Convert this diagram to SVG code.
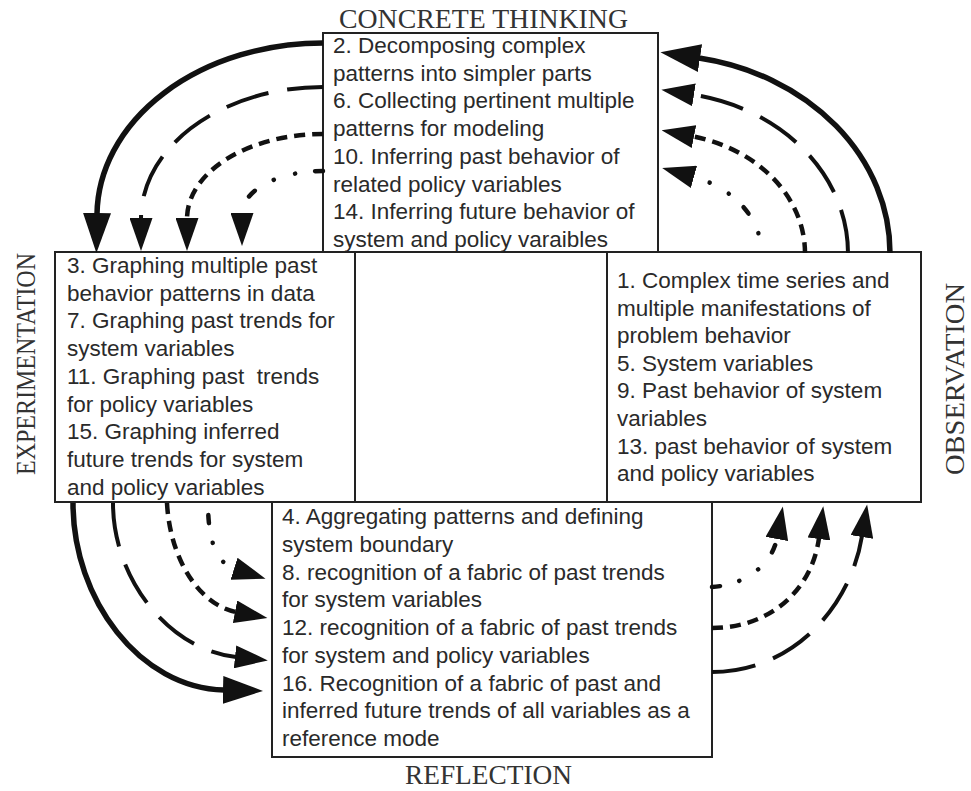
<svg xmlns="http://www.w3.org/2000/svg" width="971" height="791" viewBox="0 0 971 791">
  <style>
    .box { fill: #fff; stroke: #222; stroke-width: 2; }
    .body { font-family: "Liberation Sans", Arial, sans-serif; font-size: 22.5px; fill: #2a2a2a; }
    .phase { font-family: "Liberation Serif", "Times New Roman", serif; font-size: 27px; fill: #333; }
    .arc { fill: none; stroke: #111; }
    .solid { stroke-width: 5.5; }
    .long { stroke-width: 4; stroke-dasharray: 44 19; }
    .short { stroke-width: 4.5; stroke-dasharray: 11 7; }
    .dotdash { stroke-width: 4.5; stroke-linecap: round; stroke-dasharray: 8 20 0.1 22 0.1 22; }
  </style>
  <defs>
    <marker id="head" markerUnits="userSpaceOnUse" viewBox="0 0 33 23" markerWidth="33" markerHeight="23" refX="1" refY="11.5" orient="auto">
      <path d="M0,0 L33,11.5 L0,23 Z" fill="#111"/>
    </marker>
    <marker id="head-lg" markerUnits="userSpaceOnUse" viewBox="0 0 40 28" markerWidth="40" markerHeight="28" refX="1" refY="14" orient="auto">
      <path d="M0,0 L40,14 L0,28 Z" fill="#111"/>
    </marker>
  </defs>

  <rect width="971" height="791" fill="#fff"/>

  <!-- Concrete thinking (top) -->
  <g id="concrete-thinking">
    <rect class="box" x="323" y="33" width="335" height="219"/>
    <text class="body">
      <tspan x="333" y="53">2. Decomposing complex</tspan>
      <tspan x="333" y="80.7">patterns into simpler parts</tspan>
      <tspan x="333" y="108.4">6. Collecting pertinent multiple</tspan>
      <tspan x="333" y="136.1">patterns for modeling</tspan>
      <tspan x="333" y="163.8">10. Inferring past behavior of</tspan>
      <tspan x="333" y="191.5">related policy variables</tspan>
      <tspan x="333" y="219.2">14. Inferring future behavior of</tspan>
      <tspan x="333" y="246.9">system and policy varaibles</tspan>
    </text>
    <text class="phase" x="483.5" y="28" text-anchor="middle" textLength="289" lengthAdjust="spacingAndGlyphs">CONCRETE THINKING</text>
  </g>

  <!-- Experimentation (left) -->
  <g id="experimentation">
    <rect class="box" x="55" y="252" width="300" height="250"/>
    <text class="body">
      <tspan x="67" y="273">3. Graphing multiple past</tspan>
      <tspan x="67" y="300.7">behavior patterns in data</tspan>
      <tspan x="67" y="328.4">7. Graphing past trends for</tspan>
      <tspan x="67" y="356.1">system variables</tspan>
      <tspan x="67" y="383.8">11. Graphing past&#160; trends</tspan>
      <tspan x="67" y="411.5">for policy variables</tspan>
      <tspan x="67" y="439.2">15. Graphing inferred</tspan>
      <tspan x="67" y="466.9">future trends for system</tspan>
      <tspan x="67" y="494.6">and policy variables</tspan>
    </text>
    <text class="phase" transform="translate(35,364) rotate(-90)" text-anchor="middle" textLength="222" lengthAdjust="spacingAndGlyphs">EXPERIMENTATION</text>
  </g>

  <!-- Empty centre cell -->
  <g id="centre">
    <rect class="box" x="355" y="252" width="252" height="250"/>
  </g>

  <!-- Observation (right) -->
  <g id="observation">
    <rect class="box" x="607" y="252" width="314" height="250"/>
    <text class="body">
      <tspan x="617" y="288">1. Complex time series and</tspan>
      <tspan x="617" y="315.6">multiple manifestations of</tspan>
      <tspan x="617" y="343.2">problem behavior</tspan>
      <tspan x="617" y="370.8">5. System variables</tspan>
      <tspan x="617" y="398.4">9. Past behavior of system</tspan>
      <tspan x="617" y="426">variables</tspan>
      <tspan x="617" y="453.6">13. past behavior of system</tspan>
      <tspan x="617" y="481.2">and policy variables</tspan>
    </text>
    <text class="phase" transform="translate(964,379) rotate(-90)" text-anchor="middle" textLength="192" lengthAdjust="spacingAndGlyphs">OBSERVATION</text>
  </g>

  <!-- Reflection (bottom) -->
  <g id="reflection">
    <rect class="box" x="272" y="502" width="440" height="255"/>
    <text class="body">
      <tspan x="282" y="524">4. Aggregating patterns and defining</tspan>
      <tspan x="282" y="551.75">system boundary</tspan>
      <tspan x="282" y="579.5">8. recognition of a fabric of past trends</tspan>
      <tspan x="282" y="607.25">for system variables</tspan>
      <tspan x="282" y="635">12. recognition of a fabric of past trends</tspan>
      <tspan x="282" y="662.75">for system and policy variables</tspan>
      <tspan x="282" y="690.5">16. Recognition of a fabric of past and</tspan>
      <tspan x="282" y="718.25">inferred future trends of all variables as a</tspan>
      <tspan x="282" y="746">reference mode</tspan>
    </text>
    <text class="phase" x="488.5" y="784" text-anchor="middle" textLength="167" lengthAdjust="spacingAndGlyphs">REFLECTION</text>
  </g>

  <!-- Cycle arcs between the four phases -->
  <g id="connectors">
    <!-- concrete thinking -> experimentation -->
    <path class="arc solid" d="M323,43 A226,173 0 0 0 97,214" marker-end="url(#head-lg)"/>
    <path class="arc long" d="M323,87 A182,132 0 0 0 141,219" stroke-dashoffset="8" marker-end="url(#head)"/>
    <path class="arc short" d="M323,134 A136,85 0 0 0 187,219" marker-end="url(#head)"/>
    <path class="arc dotdash" d="M323,171 A81,43 0 0 0 242,214" marker-end="url(#head)"/>

    <!-- experimentation -> reflection -->
    <path class="arc solid" d="M73,503 C73,600 140,688 224,690" marker-end="url(#head-lg)"/>
    <path class="arc long" d="M113,503 C113,580 170,650 236,657" marker-end="url(#head)"/>
    <path class="arc short" d="M167,503 C170,560 200,605 236,612" marker-end="url(#head)"/>
    <path class="arc dotdash" d="M208,503 C208,540 216,563 235,569" stroke-dashoffset="-12" marker-end="url(#head)"/>

    <!-- reflection -> observation -->
    <path class="arc long" d="M712,672 C790,672 850,610 862,536" marker-end="url(#head)"/>
    <path class="arc short" d="M712,628 C770,628 812,590 819,538" marker-end="url(#head)"/>
    <path class="arc dotdash" d="M712,587 C745,585 772,565 777,538" marker-end="url(#head)"/>

    <!-- observation -> concrete thinking -->
    <path class="arc solid" d="M890,253 A231,198 0 0 0 699,58" marker-end="url(#head-lg)"/>
    <path class="arc long" d="M848,253 A189,161 0 0 0 693,94.7" marker-end="url(#head)"/>
    <path class="arc short" d="M805,253 A146,120 0 0 0 693,136.4" marker-end="url(#head)"/>
    <path class="arc dotdash" d="M761.5,253 A102.5,81 0 0 0 693,176.6" stroke-dashoffset="30" marker-end="url(#head)"/>
  </g>
</svg>
